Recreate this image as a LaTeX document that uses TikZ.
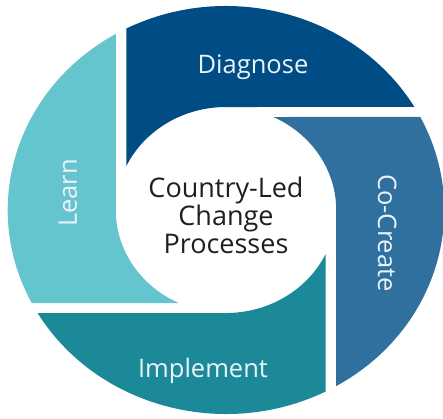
\documentclass[tikz,border=0pt]{standalone}
\usepackage{fontspec}
\setmainfont{Open Sans}
\definecolor{diagblue}{RGB}{0,77,134}
\definecolor{createblue}{RGB}{47,112,158}
\definecolor{implteal}{RGB}{28,137,153}
\definecolor{learncyan}{RGB}{100,197,206}
\definecolor{steplight}{RGB}{235,243,250}
\tikzset{
  steptext/.style={text=steplight,font=\fontsize{25.5}{30}\selectfont,inner sep=0pt},
  hubtext/.style={text=black!88,font=\fontsize{27}{28}\selectfont,align=center,inner sep=0pt}
}
\begin{document}
\begin{tikzpicture}[x=1pt,y=1pt]
  \useasboundingbox (-226,-208) rectangle (217,210);
  \fill[white] (-226,-208) rectangle (217,210);
  % four pinwheel blades, inner radius 103, outer radius 204
  \begin{scope}[xscale=1.07]
    \foreach \ang/\col in {0/diagblue,-90/createblue,-180/implteal,-270/learncyan}
      \fill[\col,rotate=\ang] (154.55:103) -- (117.13:204)
        arc[start angle=117.13,end angle=30.33,radius=204] -- (90:103)
        arc[start angle=90,end angle=154.55,radius=103] -- cycle;
  \end{scope}
  % step names
  \node[steptext,anchor=base] (diagnose) at (27,137) {Diagnose};
  \node[steptext,anchor=base,rotate=-90] (cocreate) at (152,-23) {Co-Create};
  \node[steptext,anchor=base] (implement) at (-23,-167) {Implement};
  \node[steptext,anchor=base,rotate=90] (learn) at (-149,17) {Learn};
  % middle text
  \node[hubtext] (hub) at (0,-5) {Country-Led\\Change\\Processes};
\end{tikzpicture}
\end{document}
